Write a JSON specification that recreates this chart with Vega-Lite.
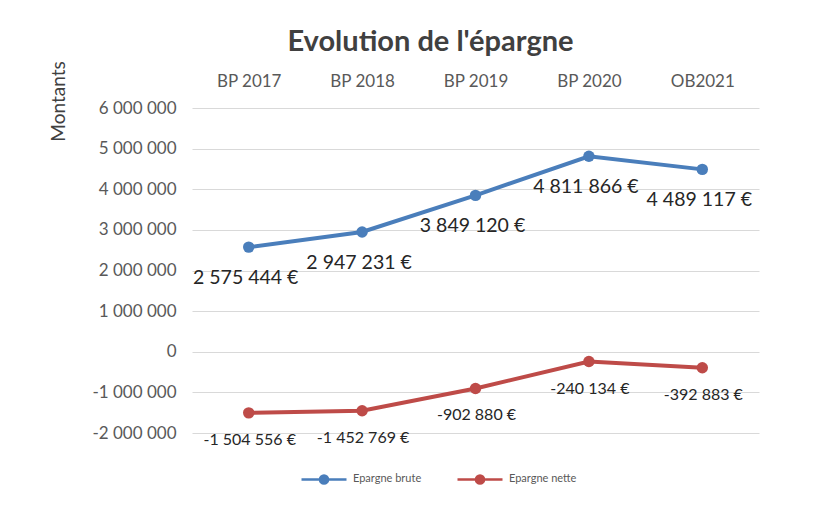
{
  "$schema": "https://vega.github.io/schema/vega-lite/v6.json",
  "width": 567,
  "height": 325,
  "autosize": {"type": "none"},
  "padding": {"left": 192, "top": 108, "right": 81, "bottom": 73},
  "background": "white",
  "config": {
    "locale": {"number": {"decimal": ",", "thousands": " ", "grouping": [3], "currency": ["", " €"], "minus": "-"}},
    "font": "Lato",
    "view": {"stroke": null}
  },
  "title": {"text": "Evolution de l'épargne", "fontSize": 29, "fontWeight": "bold", "color": "#404040", "anchor": "middle", "frame": "group", "dx": -45, "offset": 4},
  "data": {"values": [
    {"cat": "BP 2017", "series": "Epargne brute", "value": 2575444},
    {"cat": "BP 2018", "series": "Epargne brute", "value": 2947231},
    {"cat": "BP 2019", "series": "Epargne brute", "value": 3849120},
    {"cat": "BP 2020", "series": "Epargne brute", "value": 4811866},
    {"cat": "OB2021", "series": "Epargne brute", "value": 4489117},
    {"cat": "BP 2017", "series": "Epargne nette", "value": -1504556},
    {"cat": "BP 2018", "series": "Epargne nette", "value": -1452769},
    {"cat": "BP 2019", "series": "Epargne nette", "value": -902880},
    {"cat": "BP 2020", "series": "Epargne nette", "value": -240134},
    {"cat": "OB2021", "series": "Epargne nette", "value": -392883}
  ]},
  "encoding": {
    "x": {"field": "cat", "type": "nominal", "sort": null,
      "axis": {"orient": "top", "title": null, "labelAngle": 0, "domain": false, "ticks": false, "labelFontSize": 17, "labelColor": "#595959", "labelPadding": 18, "grid": false}},
    "y": {"field": "value", "type": "quantitative",
      "scale": {"domain": [-2000000, 6000000], "nice": false},
      "axis": {"values": [-2000000, -1000000, 0, 1000000, 2000000, 3000000, 4000000, 5000000, 6000000],
        "format": ",.0f", "domain": false, "ticks": false, "labelFontSize": 17, "labelColor": "#595959", "labelPadding": 16,
        "gridColor": "#d9d9d9", "title": "Montants", "titleFontSize": 19, "titleFontWeight": "normal", "titleColor": "#404040",
        "titleAngle": -90, "titleX": -134, "titleY": -7, "titleAlign": "center", "titleBaseline": "middle"}},
    "color": {"field": "series", "type": "nominal",
      "scale": {"domain": ["Epargne brute", "Epargne nette"], "range": ["#4a7ebb", "#be4b48"]},
      "legend": {"orient": "none", "legendX": 108, "legendY": 347, "direction": "horizontal", "title": null,
        "labelFontSize": 11, "labelColor": "#595959", "columnPadding": 30, "labelOffset": 5,
        "symbolType": "M-1,0L1,0M-0.18,0a0.18,0.18 0 1,0 0.36,0a0.18,0.18 0 1,0 -0.36,0",
        "symbolSize": 2025, "symbolStrokeWidth": 2.5}}
  },
  "layer": [
    {"mark": {"type": "line", "strokeWidth": 4}},
    {"mark": {"type": "point", "filled": true, "size": 130, "opacity": 1}},
    {"transform": [{"filter": "datum.series === 'Epargne brute'"}],
     "mark": {"type": "text", "dy": 31, "dx": -3, "fontSize": 19.5},
     "encoding": {"text": {"field": "value", "type": "quantitative", "format": "$,.0f"}, "color": {"value": "#262626"}}},
    {"transform": [{"filter": "datum.series === 'Epargne nette'"}],
     "mark": {"type": "text", "dy": 27, "dx": 1, "fontSize": 16},
     "encoding": {"text": {"field": "value", "type": "quantitative", "format": "$,.0f"}, "color": {"value": "#262626"}}}
  ]
}
